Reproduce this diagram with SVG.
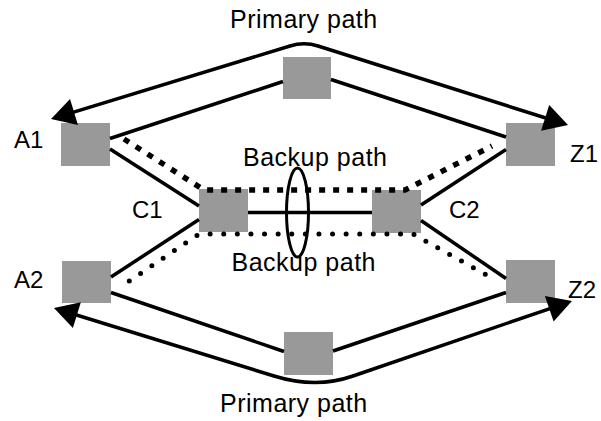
<svg xmlns="http://www.w3.org/2000/svg" width="601" height="421" viewBox="0 0 601 421">
  <style>
    .node { fill: #999999; }
    .lbl { font-family: "Liberation Sans", Arial, sans-serif; font-size: 24px; fill: #000; }
    .plbl { font-family: "Liberation Sans", Arial, sans-serif; font-size: 25px; letter-spacing: 0.5px; fill: #000; }
    .link { fill: none; stroke: #000; stroke-width: 3.5; }
    .primary { fill: none; stroke: #000; stroke-width: 3.5; stroke-linejoin: round; marker-start: url(#arrow); marker-end: url(#arrow); }
    .backup-sq { fill: none; stroke: #000; stroke-width: 5.5; stroke-dasharray: 6 8; }
    .backup-rd { fill: none; stroke: #000; stroke-width: 5; stroke-linecap: round; stroke-dasharray: 0 13.6; }
  </style>
  <defs>
    <marker id="arrow" markerUnits="userSpaceOnUse" markerWidth="40" markerHeight="40" refX="0" refY="0" orient="auto-start-reverse" overflow="visible">
      <path d="M10,0 L-14,-13.5 L-14,13.5 Z" fill="#000"/>
    </marker>
  </defs>

  <!-- nodes -->
  <g id="node-top"><rect class="node" x="283" y="57" width="48" height="42"/></g>
  <g id="node-A1"><rect class="node" x="61" y="123" width="49" height="43"/><text class="lbl" x="14" y="148">A1</text></g>
  <g id="node-Z1"><rect class="node" x="506" y="123" width="49" height="43"/><text class="lbl" x="570" y="162">Z1</text></g>
  <g id="node-C1"><rect class="node" x="199" y="189" width="49" height="43"/><text class="lbl" x="132" y="218">C1</text></g>
  <g id="node-C2"><rect class="node" x="372" y="190" width="49" height="43"/><text class="lbl" x="449" y="218">C2</text></g>
  <g id="node-A2"><rect class="node" x="62" y="261" width="49" height="42"/><text class="lbl" x="14" y="288">A2</text></g>
  <g id="node-Z2"><rect class="node" x="506" y="260" width="49" height="43"/><text class="lbl" x="568" y="298">Z2</text></g>
  <g id="node-bottom"><rect class="node" x="284" y="332" width="49" height="43"/></g>

  <!-- connectors -->
  <g id="connectors">
    <!-- physical links -->
    <line class="link" x1="110" y1="138.5" x2="283" y2="81.5"/>
    <line class="link" x1="331" y1="79.5" x2="506" y2="137"/>
    <line class="link" x1="110" y1="149" x2="199" y2="206"/>
    <line class="link" x1="199" y1="219.5" x2="111" y2="277"/>
    <line class="link" x1="248" y1="212.5" x2="372" y2="212.5"/>
    <line class="link" x1="421" y1="205" x2="506" y2="149.5"/>
    <line class="link" x1="421" y1="220.5" x2="506" y2="278.5"/>
    <line class="link" x1="111" y1="292.5" x2="284" y2="351.5"/>
    <line class="link" x1="333" y1="351" x2="506" y2="292.5"/>

    <!-- primary paths -->
    <path class="primary" d="M60.6,116.1 L290,46 Q304,41.5 318,46 L558.5,122"/>
    <path class="primary" d="M63.5,311 L274,376 Q316,389 353,376 L562.5,304.3"/>

    <!-- backup paths -->
    <path class="backup-sq" d="M124,139 L204,190 L405,190 L492,146"/>
    <path class="backup-rd" d="M129.3,281 L199,234 L413,234 L488.3,276"/>

    <!-- shared risk group marker on the C1-C2 links -->
    <ellipse cx="297.5" cy="212.5" rx="11" ry="44.5" fill="none" stroke="#000" stroke-width="3"/>
  </g>

  <!-- path labels -->
  <text class="plbl" x="230" y="28">Primary path</text>
  <text class="plbl" x="243" y="165.5">Backup path</text>
  <text class="plbl" x="231.5" y="271">Backup path</text>
  <text class="plbl" x="220" y="411.5">Primary path</text>
</svg>
